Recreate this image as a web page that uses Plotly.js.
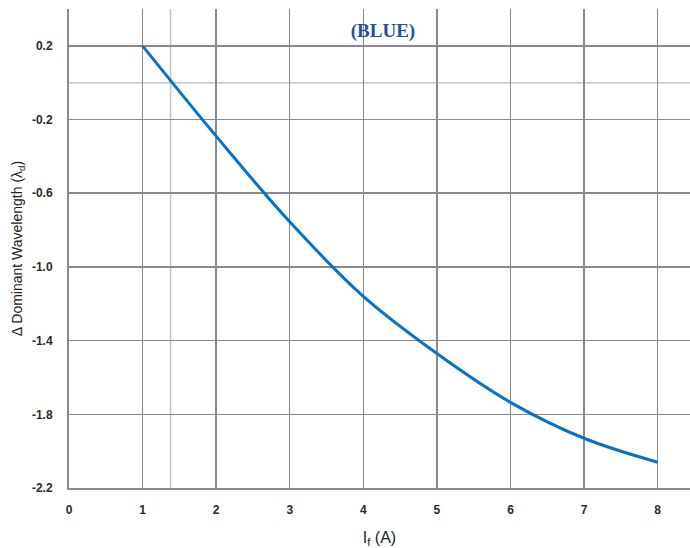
<!DOCTYPE html>
<html>
<head>
<meta charset="utf-8">
<script src="https://cdn.plot.ly/plotly-3.0.1.min.js"></script>
<style>html,body{margin:0;padding:0;background:#fff;}#chart{width:690px;height:548px;}</style>
</head>
<body>
<div id="chart"></div>
<script>
// Data
const currentA = [1, 2, 3, 4, 5, 6, 7, 8];
const deltaWavelength = [0.2, -0.29, -0.755, -1.16, -1.47, -1.735, -1.93, -2.06];
const xTickVals = [0, 1, 2, 3, 4, 5, 6, 7, 8];
const yTickVals = [0.2, -0.2, -0.6, -1.0, -1.4, -1.8, -2.2];
const yTickText = ['0.2', '-0.2', '-0.6', '-1.0', '-1.4', '-1.8', '-2.2'];
const refLineX = 1.38;
const refLineY = 0.0;

const trace = {
  x: currentA,
  y: deltaWavelength,
  type: 'scatter',
  mode: 'lines',
  line: {color: '#0a72c4', width: 3, shape: 'spline', smoothing: 1},
  hoverinfo: 'x+y',
  showlegend: false
};

const tickFont = {family: 'Liberation Sans Narrow, Liberation Sans, Arial, sans-serif', size: 12, color: '#2a2a2a', weight: 'bold'};

const layout = {
  width: 690,
  height: 548,
  margin: {l: 69, r: 0, t: 9, b: 60},
  paper_bgcolor: '#ffffff',
  plot_bgcolor: '#ffffff',
  title: {
    text: '<b>(BLUE)</b>',
    font: {family: 'Liberation Serif, DejaVu Serif, serif', size: 19, color: '#2a4e9e'},
    x: 0.555, xanchor: 'center', y: 0.945, yanchor: 'middle'
  },
  xaxis: {
    range: [0, 8.44],
    tickvals: xTickVals,
    ticktext: xTickVals.map(String),
    tickfont: tickFont,
    showgrid: true,
    gridcolor: '#8a8a8a',
    gridwidth: 1.5,
    zeroline: false,
    showline: true,
    linecolor: '#8a8a8a',
    linewidth: 2,
    ticks: '',
    ticklabelstandoff: 10,
    title: {
      text: 'I<sub>f</sub> (A)',
      font: {family: 'Liberation Sans Narrow, Liberation Sans, Arial, sans-serif', size: 16, color: '#222'},
      standoff: 18
    }
  },
  yaxis: {
    range: [-2.2, 0.4],
    tickvals: yTickVals,
    ticktext: yTickText,
    tickfont: tickFont,
    showgrid: true,
    gridcolor: '#8a8a8a',
    gridwidth: 1.5,
    zeroline: false,
    showline: true,
    linecolor: '#8a8a8a',
    linewidth: 2,
    ticks: '',
    ticklabelstandoff: 12,
    title: {
      text: 'Δ Dominant Wavelength (λ<sub>d</sub>)',
      font: {family: 'Liberation Sans, Arial, sans-serif', size: 14, color: '#222'},
      standoff: 6
    }
  },
  shapes: [
    {type: 'line', xref: 'x', yref: 'paper', x0: refLineX, x1: refLineX, y0: 0, y1: 1,
     line: {color: '#c4c4c4', width: 1.5}, layer: 'below'},
    {type: 'line', xref: 'paper', yref: 'y', x0: 0, x1: 1, y0: refLineY, y1: refLineY,
     line: {color: '#c4c4c4', width: 1.5}, layer: 'below'}
  ]
};

Plotly.newPlot('chart', [trace], layout, {displayModeBar: false, staticPlot: true});
</script>
</body>
</html>
